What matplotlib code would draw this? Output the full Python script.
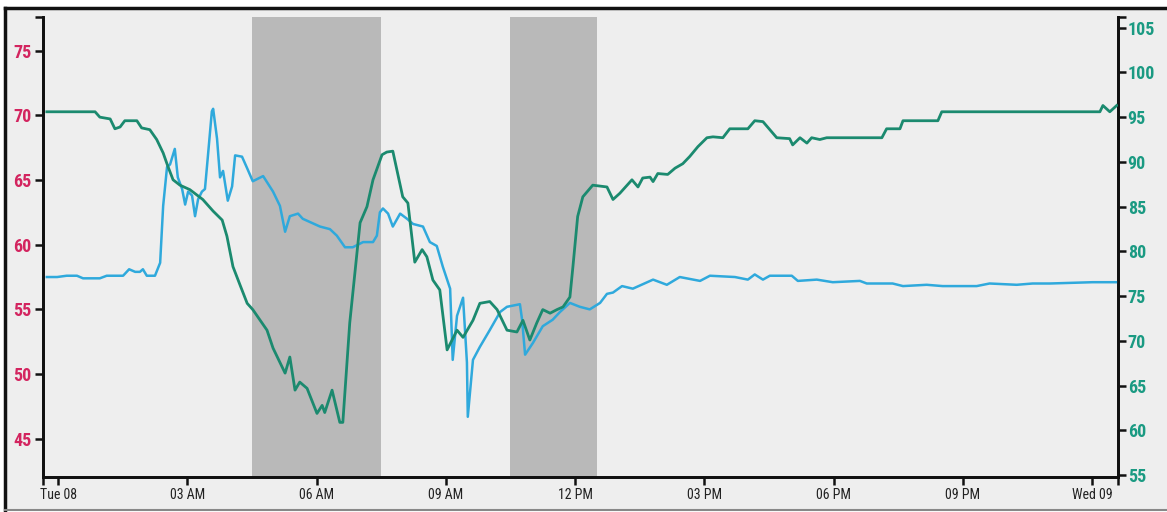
import matplotlib
matplotlib.use("Agg")
import matplotlib.pyplot as plt
from matplotlib import font_manager
from matplotlib.lines import Line2D

names = {f.name for f in font_manager.fontManager.ttflist}
narrow = [n for n in ("Liberation Sans Narrow", "DejaVu Sans Condensed", "Roboto Condensed") if n in names]
plt.rcParams['font.family'] = narrow + ['DejaVu Sans']

# hours since Tue 08 00:00
blue_t = [-0.26, -0.02, 0.20, 0.44, 0.58, 0.97, 1.13, 1.51, 1.65, 1.79, 1.90, 1.97, 2.06, 2.25,
          2.37, 2.44, 2.53, 2.60, 2.71, 2.78, 2.88, 2.95, 3.02, 3.11, 3.18, 3.25, 3.34, 3.41,
          3.48, 3.57, 3.60, 3.69, 3.76, 3.83, 3.94, 4.04, 4.11, 4.27, 4.39, 4.52, 4.76, 4.99,
          5.15, 5.27, 5.38, 5.57, 5.68, 6.08, 6.31, 6.47, 6.66, 6.84, 7.08, 7.31, 7.40, 7.47,
          7.54, 7.66, 7.77, 7.94, 8.10, 8.24, 8.47, 8.63, 8.79, 8.93, 9.10, 9.16, 9.26, 9.33,
          9.40, 9.49, 9.51, 9.63, 9.79, 10.02, 10.26, 10.42, 10.72, 10.77, 10.84, 11.02, 11.25,
          11.48, 11.65, 11.88, 12.11, 12.34, 12.58, 12.74, 12.88, 13.09, 13.34, 13.81, 14.13,
          14.43, 14.90, 15.13, 15.71, 16.01, 16.17, 16.36, 16.52, 17.03, 17.17, 17.61, 17.98,
          18.61, 18.77, 19.37, 19.61, 20.16, 20.53, 21.32, 21.62, 22.25, 22.62, 23.02, 24.01, 24.57]
blue_v = [57.5, 57.5, 57.6, 57.6, 57.4, 57.4, 57.6, 57.6, 58.1, 57.9, 57.9, 58.1, 57.6, 57.6,
          58.6, 63.0, 66.0, 66.2, 67.4, 65.2, 64.3, 63.1, 64.1, 63.8, 62.2, 63.5, 64.1, 64.3,
          66.9, 70.3, 70.5, 68.2, 65.2, 65.7, 63.4, 64.5, 66.9, 66.8, 65.9, 64.9, 65.3, 64.1,
          63.0, 61.0, 62.2, 62.4, 62.0, 61.4, 61.2, 60.7, 59.8, 59.8, 60.2, 60.2, 60.7, 62.5,
          62.8, 62.4, 61.4, 62.4, 62.0, 61.6, 61.4, 60.2, 59.9, 58.3, 56.6, 51.1, 54.5, 55.2,
          55.9, 50.9, 46.7, 51.1, 52.1, 53.4, 54.8, 55.2, 55.4, 54.2, 51.5, 52.4, 53.7,
          54.2, 54.8, 55.5, 55.2, 55.0, 55.5, 56.2, 56.3, 56.8, 56.6, 57.3, 56.9,
          57.5, 57.2, 57.6, 57.5, 57.3, 57.7, 57.3, 57.6, 57.6, 57.2, 57.3, 57.1,
          57.2, 57.0, 57.0, 56.8, 56.9, 56.8, 56.8, 57.0, 56.9, 57.0, 57.0, 57.1, 57.1]

green_t = [-0.26, 0.86, 0.97, 1.21, 1.32, 1.44, 1.55, 1.83, 1.94, 2.13, 2.29, 2.44, 2.55, 2.67,
           2.83, 3.06, 3.36, 3.60, 3.81, 3.92, 4.06, 4.22, 4.39, 4.52, 4.85, 4.99, 5.27, 5.38,
           5.50, 5.61, 5.78, 6.01, 6.13, 6.19, 6.36, 6.54, 6.61, 6.77, 7.01, 7.17, 7.31, 7.52,
           7.63, 7.77, 8.00, 8.12, 8.28, 8.45, 8.56, 8.70, 8.86, 9.03, 9.26, 9.40, 9.63, 9.79,
           10.02, 10.19, 10.42, 10.65, 10.79, 10.95, 11.11, 11.25, 11.42, 11.58, 11.72, 11.88,
           11.95, 12.06, 12.18, 12.41, 12.74, 12.88, 13.04, 13.32, 13.46, 13.57, 13.74, 13.81,
           13.92, 14.15, 14.32, 14.50, 14.66, 14.85, 15.06, 15.20, 15.43, 15.59, 16.01, 16.17,
           16.36, 16.68, 16.98, 17.05, 17.22, 17.38, 17.49, 17.68, 17.84, 19.12, 19.23, 19.54,
           19.61, 20.42, 20.51, 24.18, 24.25, 24.41, 24.57]
green_v = [95.6, 95.6, 95.0, 94.8, 93.7, 93.9, 94.6, 94.6, 93.8, 93.6, 92.5, 91.0, 89.5, 88.0,
           87.4, 86.9, 85.8, 84.5, 83.5, 81.7, 78.3, 76.3, 74.2, 73.5, 71.2, 69.2, 66.4, 68.2,
           64.5, 65.4, 64.7, 61.9, 62.8, 62.0, 64.5, 60.9, 60.9, 72.0, 83.2, 85.0, 88.0, 90.8,
           91.1, 91.2, 86.1, 85.4, 78.8, 80.2, 79.4, 76.8, 75.7, 69.0, 71.2, 70.4, 72.3, 74.2,
           74.4, 73.5, 71.2, 71.0, 72.3, 70.1, 72.0, 73.5, 73.1, 73.5, 73.8, 74.9,
           78.3, 83.9, 86.1, 87.4, 87.2, 85.8, 86.5, 88.0, 87.2, 88.2, 88.3, 87.8,
           88.7, 88.6, 89.3, 89.8, 90.6, 91.7, 92.7, 92.8, 92.7, 93.7, 93.7, 94.6,
           94.5, 92.7, 92.6, 91.9, 92.7, 92.1, 92.7, 92.5, 92.7, 92.7, 93.7, 93.7,
           94.6, 94.6, 95.6, 95.6, 96.3, 95.6, 96.3]

shaded = [(4.5, 7.5), (10.5, 12.5)]
x_ticks = [0, 3, 6, 9, 12, 15, 18, 21, 24]
x_labels = ["Tue 08", "03 AM", "06 AM", "09 AM", "12 PM", "03 PM", "06 PM", "09 PM", "Wed 09"]
left_ticks = [45, 50, 55, 60, 65, 70, 75]
right_ticks = [55, 60, 65, 70, 75, 80, 85, 90, 95, 100, 105]

BG = "#eeeeee"
BLUE = "#2fa9dc"
GREEN = "#1b8a6f"
PINK = "#d3245f"
TEAL = "#1a9a82"

fig = plt.figure(figsize=(11.67, 5.12), dpi=100, facecolor="white")
# panel background and outer frame
fig.patches.append(plt.Rectangle((0.004, 0.004), 0.996, 0.98, transform=fig.transFigure,
                                 facecolor=BG, edgecolor="none", zorder=-10))
fig.add_artist(Line2D([0.004, 1.0], [0.984, 0.984], color="#111111", lw=2.5))
fig.add_artist(Line2D([0.004, 0.004], [0.004, 0.984], color="#111111", lw=2.5))
fig.add_artist(Line2D([0.004, 1.0], [0.004, 0.004], color="#888888", lw=1.5))

ax = fig.add_axes([0.0368, 0.0684, 0.9212, 0.8986])
ax.set_facecolor(BG)
ax2 = ax.twinx()

for a, b in shaded:
    ax.axvspan(a, b, color="#b9b9b9", lw=0, zorder=0)

ax.plot(blue_t, blue_v, color=BLUE, lw=1.8, zorder=3)
ax2.plot(green_t, green_v, color=GREEN, lw=2, zorder=3)

ax.set_xlim(-0.35, 24.6)
ax.set_ylim(42.05, 77.6)
ax2.set_ylim(54.8, 106.2)

ax.set_xticks(x_ticks)
ax.set_xticklabels(x_labels)
ax.set_xticks([-0.35, 24.6], minor=True)
ax.set_yticks(left_ticks)
ax.set_yticks([77.6], minor=True)
ax2.set_yticks(right_ticks)
ax2.set_yticks([106.2], minor=True)

for a in (ax, ax2):
    a.spines["top"].set_visible(False)
    for s in ("left", "right", "bottom"):
        a.spines[s].set_linewidth(2)
        a.spines[s].set_color("#111111")
    a.tick_params(which="both", length=6, width=1.8, color="#111111")

ax.tick_params(axis="y", labelcolor=PINK, labelsize=13, pad=2)
ax.tick_params(axis="x", labelcolor="#222222", labelsize=10, pad=2)
ax2.tick_params(axis="y", labelcolor=TEAL, labelsize=13, pad=1)
for lab in ax.get_yticklabels() + ax2.get_yticklabels():
    lab.set_fontweight("bold")
    lab.set_fontstretch("condensed")
for lab in ax.get_xticklabels():
    lab.set_fontstretch("condensed")

fig.savefig("out.png", dpi=100, facecolor="white")
